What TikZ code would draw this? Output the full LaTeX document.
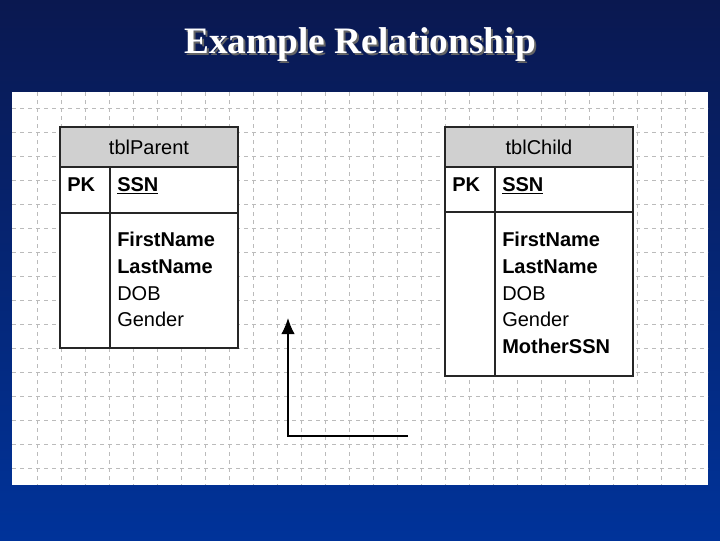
\documentclass[tikz,border=0pt]{standalone}
\usepackage{fontspec}
\usetikzlibrary{arrows.meta}
\setmainfont{Liberation Sans}
\newfontfamily\titlefont{Liberation Serif}
\definecolor{slidetop}{HTML}{0A1850}
\definecolor{slidebot}{HTML}{00339A}
\definecolor{hdr}{HTML}{D0D0D0}
\definecolor{gridc}{HTML}{BBBBBB}
\begin{document}
\begin{tikzpicture}[x=0.75pt,y=-0.75pt,
  tbl/.style={draw=black!85,line width=1.6pt},
  fld/.style={anchor=north west,inner sep=0pt,font=\fontsize{15}{20}\selectfont,align=left},
  hd/.style={inner sep=0pt,font=\fontsize{15}{18}\selectfont},
  conn/.style={draw=black,line width=0.9pt}]
\useasboundingbox (0,0) rectangle (720,540);
\shade[top color=slidetop,bottom color=slidebot] (0,0) rectangle (720,540);
\node[font=\titlefont\bfseries\fontsize{28}{32}\selectfont,text=black!60] at (362,47) {Example Relationship};
\node[font=\titlefont\bfseries\fontsize{28}{32}\selectfont,text=white] (title) at (360,45) {Example Relationship};
\fill[white] (12,92) rectangle (708,485);
\begin{scope}
\clip (12,92) rectangle (708,485);
\foreach \x in {37,61,...,708} \draw[gridc,dashed,line width=0.5pt] (\x,92) -- (\x,485);
\foreach \y in {108,132,...,485} \draw[gridc,dashed,line width=0.5pt] (12,\y) -- (708,\y);
\end{scope}
% parent
\fill[hdr] (60,127) rectangle (238,167);
\fill[white] (60,167) rectangle (238,348);
\draw[tbl] (60,127) rectangle (238,348);
\draw[tbl] (60,167) -- (238,167) (60,213) -- (238,213) (110,167) -- (110,348);
\node[hd] (ph) at (149,147) {tblParent};
\node[fld] (ppk) at (67,177) {\bfseries PK};
\node[fld] (pssn) at (117,177) {\bfseries\underline{SSN}};
\node[fld] (pf) at (117,232) {\bfseries FirstName\\\bfseries LastName\\DOB\\Gender};
% child
\fill[hdr] (445,127) rectangle (633,167);
\fill[white] (445,167) rectangle (633,376);
\draw[tbl] (445,127) rectangle (633,376);
\draw[tbl] (445,167) -- (633,167) (445,212) -- (633,212) (495,167) -- (495,376);
\node[hd] (ch) at (539,147) {tblChild};
\node[fld] (cpk) at (452,177) {\bfseries PK};
\node[fld] (cssn) at (502,177) {\bfseries\underline{SSN}};
\node[fld] (cf) at (502,232) {\bfseries FirstName\\\bfseries LastName\\DOB\\Gender\\\bfseries MotherSSN};
% connector
\coordinate (a) at (408,436);
\coordinate (b) at (288,436);
\coordinate (c) at (288,318);
\draw[conn,-{Latex[length=12pt,width=10pt]}] (a) -- (b) -- (c);
\end{tikzpicture}
\end{document}
